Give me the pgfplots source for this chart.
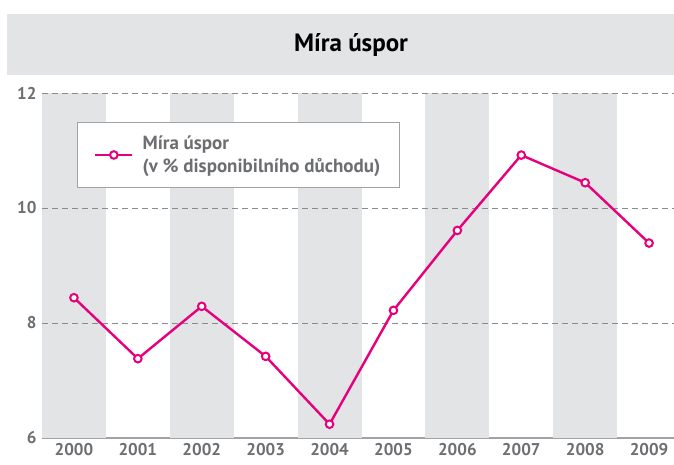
\documentclass[border=0pt]{standalone}
\usepackage{pgfplots}
\pgfplotsset{compat=1.18}
\usepackage{fontspec}
\setmainfont{PT Sans}
\definecolor{band}{HTML}{E3E4E6}
\definecolor{mag}{HTML}{E6007E}
\definecolor{txt}{HTML}{6D6E71}
\definecolor{gridc}{HTML}{8A8B8E}
\begin{document}
\begin{tikzpicture}[x=1pt,y=1pt]
\path[use as bounding box] (0,0) rectangle (674,464);
\fill[band] (7,389) rectangle (674,450);
\node[font=\fontsize{25}{28}\selectfont\bfseries] at (351,419) {Míra úspor};
\begin{axis}[
  at={(42pt,26pt)}, anchor=south west,
  width=632pt, height=345pt, scale only axis,
  xmin=-0.5, xmax=9.39, ymin=6, ymax=12,
  xtick={0,...,9},
  xticklabels={2000,2001,2002,2003,2004,2005,2006,2007,2008,2009},
  ytick={6,8,10,12},
  major tick length=0pt,
  separate axis lines,
  x axis line style={draw=gridc!80, line width=1.8pt},
  y axis line style={draw=none},
  axis x line*=bottom,
  axis y line*=left,
  ticklabel style={font=\fontsize{17}{19}\selectfont\bfseries, text=txt},
  /pgf/number format/assume math mode=true,
  xticklabel style={yshift=-2pt},
  yticklabel style={xshift=-2pt},
  legend style={at={(0.055,0.916)}, anchor=north west, draw=gridc!80, line width=0.8pt,
    font=\fontsize{19}{23}\selectfont\bfseries, text=txt, inner xsep=17pt, inner ysep=11.5pt,
    column sep=7pt, nodes={align=left}},
  legend cell align=left,
  legend image code/.code={
    \draw[#1, mark=none] (0pt,0pt) -- (37pt,0pt);
    \draw[#1, only marks] plot coordinates {(18.5pt,0pt)};},
  clip=false,
]
\foreach \i in {0,2,4,6,8} {
  \edef\tmp{\noexpand\fill[band] (axis cs:\i-0.5,6) rectangle (axis cs:\i+0.5,12);}
  \tmp
}
\foreach \v in {8,10,12} {
  \edef\tmp{\noexpand\draw[gridc, line width=1pt, dash pattern=on 6pt off 4pt] (axis cs:-0.5,\v) -- (axis cs:9.39,\v);}
  \tmp
}
\addplot[mag, line width=2.4pt, mark=*, mark size=3.8pt,
  mark options={fill=white, draw=mag, line width=2pt}]
  coordinates {(0,8.44) (1,7.38) (2,8.29) (3,7.42) (4,6.24) (5,8.22) (6,9.61) (7,10.92) (8,10.44) (9,9.39)};
\addlegendentry{Míra úspor\\(v \% disponibilního důchodu)}
\end{axis}
\end{tikzpicture}
\end{document}
